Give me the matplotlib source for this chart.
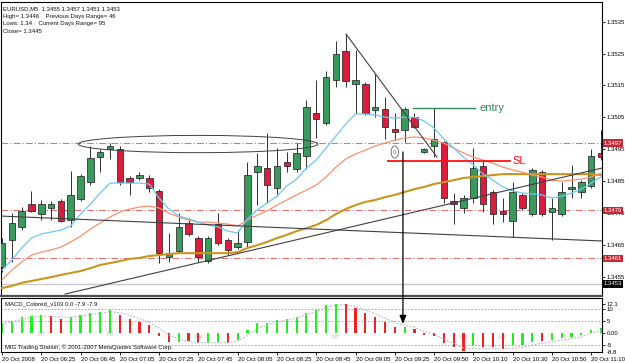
import matplotlib
matplotlib.use("Agg")
import matplotlib.pyplot as plt
import numpy as np
from matplotlib.patches import Ellipse, Rectangle

plt.rcParams["font.family"] = ["Liberation Sans", "DejaVu Sans"]

W, H = 625, 363

# EURUSD M5 candles (open, high, low, close), one per bar from 06:05
opens = [1.34583, 1.34667, 1.34708, 1.34779, 1.34748, 1.34767, 1.34789, 1.34729, 1.34795, 1.34848,
         1.34926, 1.34951, 1.34951, 1.34861, 1.34861, 1.34861, 1.34820, 1.34614, 1.34633, 1.34720,
         1.34673, 1.34601, 1.34717, 1.34667, 1.34645, 1.34661, 1.34879, 1.34892, 1.34829, 1.34911,
         1.34889, 1.34929, 1.35064, 1.35033, 1.35167, 1.35258, 1.35154, 1.35154, 1.35073, 1.35076,
         1.35014, 1.35011, 1.35051, 1.34942, 1.34961, 1.34973, 1.34789, 1.34767, 1.34798, 1.34898,
         1.34817, 1.34758, 1.34726, 1.34808, 1.34748, 1.34879, 1.34754, 1.34748, 1.34826, 1.34817,
         1.34836, 1.34939]
highs = [1.34673, 1.34751, 1.34770, 1.34820, 1.34792, 1.34789, 1.34795, 1.34882, 1.34873, 1.34961,
         1.34951, 1.34970, 1.34961, 1.34867, 1.34879, 1.34870, 1.34826, 1.34689, 1.34751, 1.34736,
         1.34679, 1.34679, 1.34751, 1.34673, 1.34698, 1.34911, 1.34939, 1.35001, 1.34954, 1.34942,
         1.34970, 1.35104, 1.35167, 1.35195, 1.35289, 1.35311, 1.35261, 1.35161, 1.35189, 1.35114,
         1.35064, 1.35083, 1.35064, 1.34954, 1.35079, 1.34976, 1.34814, 1.34808, 1.34954, 1.34917,
         1.34823, 1.34798, 1.34848, 1.34814, 1.34892, 1.34886, 1.34798, 1.34848, 1.34901, 1.34854,
         1.34951, 1.35011]
lows = [1.34567, 1.34598, 1.34698, 1.34754, 1.34729, 1.34729, 1.34723, 1.34708, 1.34789, 1.34839,
        1.34879, 1.34920, 1.34839, 1.34808, 1.34854, 1.34817, 1.34595, 1.34598, 1.34626, 1.34679,
        1.34598, 1.34595, 1.34651, 1.34620, 1.34639, 1.34645, 1.34776, 1.34783, 1.34808, 1.34879,
        1.34879, 1.34889, 1.34986, 1.35026, 1.35145, 1.35145, 1.35064, 1.35058, 1.35051, 1.34983,
        1.34979, 1.34973, 1.35017, 1.34939, 1.34926, 1.34783, 1.34717, 1.34751, 1.34783, 1.34754,
        1.34717, 1.34723, 1.34676, 1.34761, 1.34742, 1.34742, 1.34667, 1.34742, 1.34798, 1.34798,
        1.34829, 1.34917]
closes = [1.34658, 1.34720, 1.34758, 1.34758, 1.34779, 1.34779, 1.34726, 1.34808, 1.34867, 1.34923,
          1.34942, 1.34961, 1.34848, 1.34848, 1.34870, 1.34829, 1.34626, 1.34626, 1.34708, 1.34686,
          1.34614, 1.34673, 1.34658, 1.34636, 1.34658, 1.34870, 1.34898, 1.34839, 1.34898, 1.34898,
          1.34939, 1.35083, 1.35045, 1.35176, 1.35248, 1.35164, 1.35167, 1.35064, 1.35083, 1.35020,
          1.35004, 1.35076, 1.35020, 1.34951, 1.34983, 1.34798, 1.34779, 1.34798, 1.34892, 1.34779,
          1.34748, 1.34748, 1.34817, 1.34767, 1.34886, 1.34748, 1.34767, 1.34817, 1.34833, 1.34848,
          1.34929, 1.34926]

# moving averages (fast / medium / slow)
ma_fast = [1.34573, 1.34604, 1.34642, 1.34673, 1.34686, 1.34692, 1.34698, 1.34711, 1.34748, 1.34779,
           1.34814, 1.34845, 1.34845, 1.34845, 1.34845, 1.34842, 1.34798, 1.34764, 1.34742, 1.34733,
           1.34723, 1.34714, 1.34708, 1.34695, 1.34689, 1.34733, 1.34761, 1.34783, 1.34804, 1.34836,
           1.34857, 1.34892, 1.34917, 1.34954, 1.34992, 1.35029, 1.35061, 1.35061, 1.35058, 1.35051,
           1.35048, 1.35051, 1.35051, 1.35039, 1.35017, 1.34983, 1.34954, 1.34926, 1.34901, 1.34873,
           1.34854, 1.34833, 1.34820, 1.34814, 1.34811, 1.34808, 1.34798, 1.34804, 1.34814, 1.34826,
           1.34845, 1.34864]
ma_mid = [1.34542, 1.34573, 1.34598, 1.34620, 1.34629, 1.34636, 1.34645, 1.34661, 1.34679, 1.34701,
          1.34720, 1.34739, 1.34754, 1.34764, 1.34770, 1.34773, 1.34767, 1.34751, 1.34739, 1.34729,
          1.34723, 1.34723, 1.34720, 1.34717, 1.34711, 1.34729, 1.34745, 1.34758, 1.34776, 1.34792,
          1.34808, 1.34823, 1.34839, 1.34864, 1.34895, 1.34920, 1.34936, 1.34948, 1.34961, 1.34970,
          1.34979, 1.34986, 1.34989, 1.34986, 1.34979, 1.34970, 1.34954, 1.34939, 1.34926, 1.34917,
          1.34907, 1.34895, 1.34886, 1.34879, 1.34870, 1.34864, 1.34854, 1.34851, 1.34854, 1.34857,
          1.34864, 1.34876]
ma_slow = [1.34517, 1.34523, 1.34533, 1.34539, 1.34545, 1.34551, 1.34558, 1.34564, 1.34570, 1.34579,
           1.34589, 1.34595, 1.34601, 1.34608, 1.34611, 1.34617, 1.34620, 1.34623, 1.34626, 1.34626,
           1.34626, 1.34626, 1.34626, 1.34626, 1.34629, 1.34642, 1.34651, 1.34661, 1.34673, 1.34683,
           1.34695, 1.34704, 1.34714, 1.34729, 1.34748, 1.34764, 1.34776, 1.34786, 1.34792, 1.34801,
           1.34808, 1.34817, 1.34826, 1.34833, 1.34842, 1.34848, 1.34854, 1.34861, 1.34864, 1.34867,
           1.34870, 1.34873, 1.34873, 1.34873, 1.34873, 1.34873, 1.34873, 1.34873, 1.34873, 1.34873,
           1.34873, 1.34870]

# MACD_Colored histogram + signal
macd = [4.2, 5.0, 6.7, 7.1, 7.5, 7.1, 5.8, 6.7, 7.5, 8.3,
        8.8, 9.6, 7.5, 5.8, 4.6, 3.3, -1.2, -3.8, -3.6, -3.3,
        -4.2, -4.0, -3.8, -4.2, -2.9, 1.2, 4.2, 4.3, 5.4, 5.8,
        6.7, 8.3, 9.6, 11.6, 12.1, 11.9, 10.4, 8.3, 6.7, 4.6,
        2.5, 2.6, 1.7, -0.8, -1.3, -4.2, -5.8, -7.5, -5.0, -5.8,
        -5.8, -6.7, -5.0, -5.0, -3.8, -3.3, -2.9, -2.1, -1.7, -0.8,
        1.2, 2.0]
macd_col = "gggggrrgggggrrrrrrgrrggrgggggggggggrrrrrrgrrrrrrgrrrgggrgggggg"
signal = [3.8, 4.6, 5.6, 6.4, 7.0, 7.0, 6.6, 6.6, 7.0, 7.6,
          8.2, 8.9, 8.4, 7.4, 6.0, 4.5, 2.0, -0.8, -2.6, -3.5,
          -4.0, -4.1, -4.0, -4.0, -3.4, -1.0, 1.8, 3.4, 4.6, 5.4,
          6.3, 7.6, 9.0, 10.6, 11.6, 11.8, 11.0, 9.6, 8.0, 6.2,
          4.3, 3.2, 2.3, 0.6, -0.5, -2.6, -4.4, -6.2, -6.5, -6.6,
          -6.5, -6.7, -6.4, -6.0, -5.0, -4.3, -3.7, -3.0, -2.4, -1.7,
          0.0, 1.0]

time_labels = ["20 Oct 2008", "20 Oct 06:25", "20 Oct 06:45", "20 Oct 07:05", "20 Oct 07:25",
               "20 Oct 07:45", "20 Oct 08:05", "20 Oct 08:25", "20 Oct 08:45", "20 Oct 09:05",
               "20 Oct 09:25", "20 Oct 09:50", "20 Oct 10:10", "20 Oct 10:30", "20 Oct 10:50",
               "20 Oct 11:10"]
price_ticks = [1.3455, 1.3465, 1.3475, 1.3485, 1.3495, 1.3505, 1.3515, 1.3525, 1.3535]
level_red = [1.3497, 1.3476, 1.3461]
bid = 1.3453
info = ["EURUSD,M5  1.3455 1.3457 1.3451 1.3453",
        "High= 1.3446    Previous Days Range= 46",
        "Lows: 1.34    Current Days Range= 95",
        "Close= 1.3445"]

FS = 4.3
GREEN = "#3a9a5e"
RED = "#dc1c3c"

fig = plt.figure(figsize=(W / 100, H / 100), dpi=100)
ax = fig.add_axes([1 / W, 1 - 296 / H, 601 / W, 294 / H])
axm = fig.add_axes([1 / W, 1 - 352 / H, 601 / W, 54 / H])

x = np.arange(len(opens))

# ---- main price chart
ax.set_xlim(-0.1, 61.1)
ax.set_ylim(1.34492, 1.35411)

for p in level_red:
    ax.axhline(p, color="#e07272", lw=0.8, ls=(0, (6, 2, 1, 2)), zorder=1)
ax.axhline(bid, color="#c8c8c8", lw=1.0, zorder=1)

for i in x:
    o, h, l, c = opens[i], highs[i], lows[i], closes[i]
    ax.vlines(i, l, h, color="#303030", lw=0.7, zorder=2)
    bottom = min(o, c)
    height = max(abs(c - o), 0.00002)
    ax.add_patch(Rectangle((i - 0.33, bottom), 0.66, height,
                           fc=GREEN if c >= o else RED, ec="#1a1a1a", lw=0.5, zorder=3))

ax.plot(x, ma_slow, color="#c8961e", lw=1.5, zorder=4)
ax.plot(x, ma_mid, color="#ff8f70", lw=0.9, zorder=4)
ax.plot(x, ma_fast, color="#6cc8f0", lw=0.9, zorder=4)

# hand-drawn objects
ax.add_patch(Ellipse((19.96, 1.34967), 24.4, 0.00054, fill=False, ec="#404040", lw=0.7, zorder=5))
ax.plot([-0.2, 61.1], [1.34742, 1.34664], color="#404040", lw=0.8, zorder=5)
ax.plot([6.42, 61.1], [1.34498, 1.34892], color="#404040", lw=0.8, zorder=5)
ax.plot([35.03, 44.3], [1.35311, 1.34926], color="#404040", lw=0.8, zorder=5)
ax.plot([41.85, 48.17], [1.35079, 1.35079], color="#2e8b57", lw=1.0, zorder=5)
ax.text(48.6, 1.35079, "entry", color="#2e8b57", fontsize=8, va="center", ha="left", zorder=6)
ax.plot([39.3, 51.7], [1.34914, 1.34914], color="#ff1010", lw=1.3, zorder=5)
ax.text(52.0, 1.34914, "SL", color="#ff1010", fontsize=8, va="center", ha="left", zorder=6)
ax.add_patch(Ellipse((40.0, 1.34942), 0.75, 0.00038, fc="white", ec="#606060", lw=0.6, zorder=6))
ax.text(40.0, 1.34942, "0", fontsize=4.5, color="#606060", ha="center", va="center", zorder=7)

for k, line in enumerate(info):
    ax.text(0.004, 0.986 - k * 0.026, line, transform=ax.transAxes, fontsize=FS,
            va="top", ha="left", color="#111111")

ax.yaxis.tick_right()
ax.set_yticks(price_ticks)
ax.set_yticklabels([f"{p:.4f}" for p in price_ticks])
ax.tick_params(axis="y", labelsize=FS, length=2, pad=1.2, width=0.6)
ax.set_xticks([])
yt = ax.get_yaxis_transform()
for p in level_red:
    ax.text(1.003, p, f"{p:.4f}", transform=yt, fontsize=FS, color="white", va="center", ha="left",
            bbox=dict(boxstyle="square,pad=0.2", fc="#c42a36", ec="none"), zorder=8, clip_on=False)
ax.text(1.003, bid, f"{bid:.4f}", transform=yt, fontsize=FS, color="white", va="center", ha="left",
        bbox=dict(boxstyle="square,pad=0.2", fc="black", ec="none"), zorder=8, clip_on=False)
for s in ax.spines.values():
    s.set_linewidth(0.8)
ax.spines["bottom"].set_linewidth(1.6)
ax.spines["bottom"].set_color("#505050")

# ---- MACD panel
axm.set_xlim(-0.1, 61.1)
axm.set_ylim(-7.92, 14.58)
for lv in [10, 5, -5]:
    axm.axhline(lv, color="#9a9a9a", lw=0.6, ls=(0, (2, 2)), zorder=1)
axm.bar(x, macd, width=0.22, color=["#22ee22" if c == "g" else "#ee2222" for c in macd_col], zorder=2)
axm.plot(x, signal, color="#b8b8b8", lw=0.8, ls=(0, (1.5, 1.5)), zorder=3)
for xi, yi, t in [(4, -0.6, "RT"), (11, -0.6, "RT"), (20, -1.8, "RB"),
                  (34, -1.8, "RT"), (47, -1.8, "RB"), (51, -1.8, "RB")]:
    axm.text(xi, yi, t, fontsize=FS, color="#c0c0c0", ha="center", va="center", zorder=1)
axm.text(0.006, 0.93, "MACD_Colored_v103 0.0 -7.9 -7.9", transform=axm.transAxes,
         fontsize=FS, va="top", ha="left", color="#111111")
axm.text(0.006, 0.04, "MIG Trading Station, \u00a9 2001-2007 MetaQuotes Software Corp.",
         transform=axm.transAxes, fontsize=FS, va="bottom", ha="left", color="#111111")

axm.yaxis.tick_right()
axm.set_yticks([12.1, 10, 5, 0, -5])
axm.set_yticklabels(["12.1", "10", "5", "0.00", "-5"])
axm.tick_params(axis="y", labelsize=FS, length=2, pad=1.2, width=0.6)
axm.annotate("-8.8", xy=(1.0, 0.0), xycoords="axes fraction", xytext=(3.2, -0.6),
             textcoords="offset points", fontsize=FS, va="center", ha="left", annotation_clip=False)

axm.set_xticks(x[::4])
axm.set_xticklabels(time_labels, ha="left")
axm.tick_params(axis="x", labelsize=FS, length=2, pad=1.6, width=0.6)
for s in axm.spines.values():
    s.set_linewidth(0.8)

# arrow from the entry point down into the MACD
axm.annotate("", xy=(40.83, 3.75), xycoords="data", xytext=(40.83, 1.34942),
             textcoords=ax.transData,
             arrowprops=dict(arrowstyle="-|>,head_length=0.5,head_width=0.2", color="black",
                             lw=0.9, shrinkA=0, shrinkB=0),
             annotation_clip=False)

fig.savefig("out.png", dpi=100)
